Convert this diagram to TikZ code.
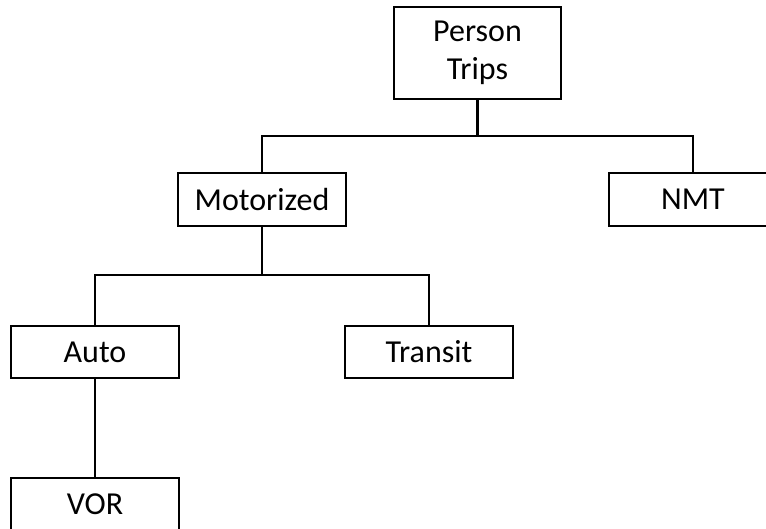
\documentclass[tikz,border=0pt]{standalone}
\usepackage{fontspec}
\setmainfont{Carlito}
\begin{document}
\begin{tikzpicture}[x=1pt,y=-1pt,
  box/.style={draw=black,line width=2.6pt,fill=white,inner sep=0pt,align=center,
    font=\fontsize{32}{38}\selectfont,minimum width=168pt,minimum height=53pt},
  conn/.style={draw=black,line width=2.6pt}]
\clip (0,0) rectangle (766,529);
\fill[white] (0,0) rectangle (766,529);
\node[box,minimum width=167pt,minimum height=92pt] (pt) at (477.5,53) {Person\\Trips};
\node[box] (mot) at (262,199.5) {Motorized};
\node[box] (nmt) at (693,199.5) {NMT};
\node[box,minimum height=52pt] (auto) at (95,352) {Auto};
\node[box,minimum height=52pt] (transit) at (429,352) {Transit};
\node[box,minimum height=52pt] (vor) at (95,504) {VOR};
\coordinate (b1) at (477.5,136);
\coordinate (b2) at (262,275);
\draw[conn] (pt.south) -- (b1);
\draw[conn] (mot.north) |- (b1);
\draw[conn] (nmt.north) |- (b1);
\draw[conn] (mot.south) -- (b2);
\draw[conn] (auto.north) |- (b2);
\draw[conn] (transit.north) |- (b2);
\draw[conn] (auto.south) -- (vor.north);
\end{tikzpicture}
\end{document}
